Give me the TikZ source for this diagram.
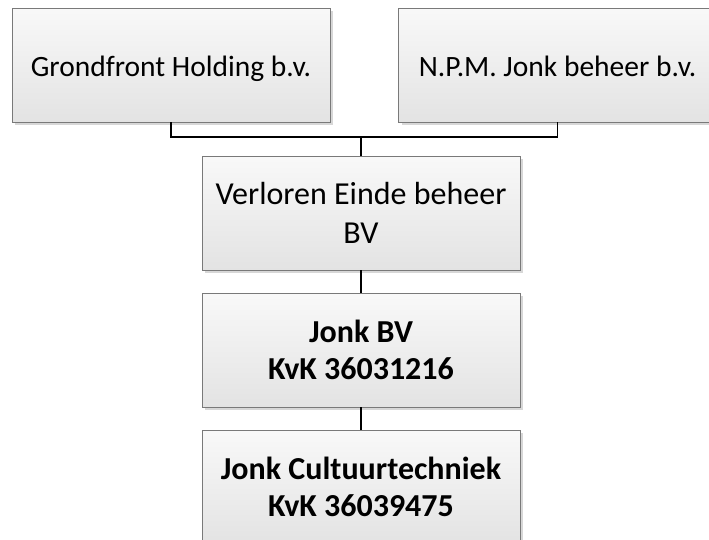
\documentclass[tikz,border=0pt]{standalone}
\usepackage{fontspec}
\setmainfont{Carlito}
\usetikzlibrary{shadows}

\begin{document}
\begin{tikzpicture}
[x=1pt,y=-1pt,
  boxdecorate/.style={shape=rectangle,draw=gray!95!black,line width=0.8pt,
    top color=gray!5,bottom color=gray!22,
    minimum width=318pt,minimum height=114pt,align=center,
    font=\fontsize{32}{39}\selectfont,
    drop shadow={shadow xshift=3pt,shadow yshift=-3pt,fill=gray!45,opacity=0.7}},
  topdecorate/.style={boxdecorate,font=\fontsize{29.5}{36}\selectfont,
    text height=26pt,text depth=4pt},
  bolddecorate/.style={boxdecorate,font=\fontsize{32}{37}\selectfont\bfseries},
  linedecorate/.style={-,line width=1.1pt}]
\useasboundingbox (0,0) rectangle (709,539);
\clip (0,0) rectangle (709,539);
%% boxes
\foreach \nodename/\x/\y/\sty/\txt in {grondfront/171/65/topdecorate/{Grondfront Holding b.v.},
  npm/557.5/65/topdecorate/{N.P.M. Jonk beheer b.v.},
  verloren/361/213/boxdecorate/{Verloren Einde beheer\\BV},
  jonkbv/361/350/bolddecorate/{Jonk BV\\KvK 36031216},
  cultuur/361/487/bolddecorate/{Jonk Cultuurtechniek\\KvK 36039475}}
{
  \node (\nodename) at (\x,\y) [\sty] {\txt};
}
\coordinate (junction) at (361,137);
%% connectors
\draw[linedecorate] (grondfront.south) |- (junction) -| (npm.south);
\path
\foreach \startnode/\endnode in {junction/verloren, verloren/jonkbv, jonkbv/cultuur}
{
  (\startnode) edge[linedecorate] (\endnode)
};
\end{tikzpicture}
\end{document}
